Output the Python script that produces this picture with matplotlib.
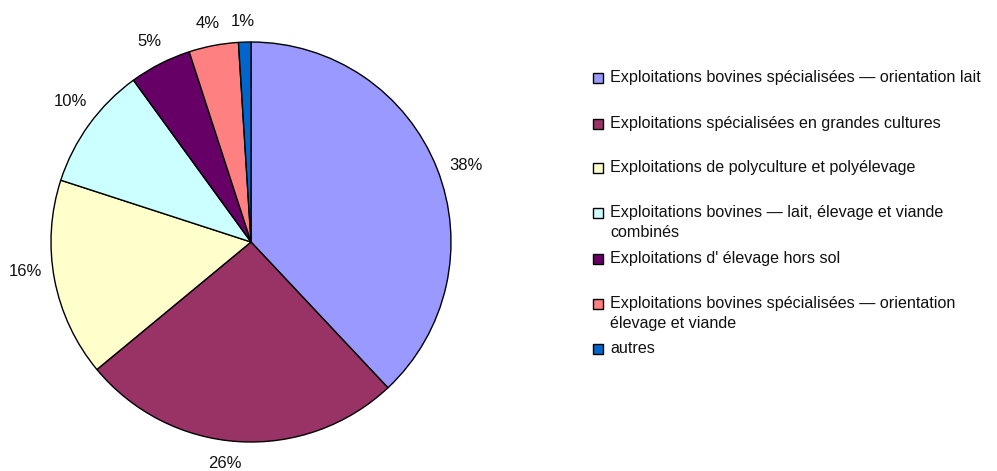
import matplotlib
matplotlib.use("Agg")
import matplotlib.pyplot as plt
from matplotlib.patches import Rectangle

plt.rcParams['font.family'] = ['Liberation Sans', 'DejaVu Sans']

categories = [
    "Exploitations bovines spécialisées — orientation lait",
    "Exploitations spécialisées en grandes cultures",
    "Exploitations de polyculture et polyélevage",
    "Exploitations bovines — lait, élevage et viande\ncombinés",
    "Exploitations d' élevage hors sol",
    "Exploitations bovines spécialisées — orientation\nélevage et viande",
    "autres",
]
values = [38, 26, 16, 10, 5, 4, 1]
colors = ["#9999FF", "#993366", "#FFFFCC", "#CCFFFF", "#660066", "#FF8080", "#0066CC"]

W, H = 997, 471
fig = plt.figure(figsize=(W / 100, H / 100), dpi=100)
fig.patch.set_facecolor("white")

cx, cy, r = 251, 242, 200
ax = fig.add_axes([(cx - r) / W, (H - cy - r) / H, 2 * r / W, 2 * r / H])
res = ax.pie(values, colors=colors, startangle=90, counterclock=False,
             autopct="%1.0f%%", pctdistance=1.13,
             wedgeprops=dict(edgecolor="black", linewidth=1.0),
             textprops=dict(fontsize=12, color="#111111"))
ax.set_xlim(-1, 1)
ax.set_ylim(-1, 1)
ax.set_aspect("equal")

# Excel-style label placement (pixel positions of label centres)
label_px = [(466, 165), (225, 463), (25, 272), (70, 101), (149, 41), (208, 24), (243, 22)]
for t, (px, py) in zip(res[2], label_px):
    t.set_position(((px - cx) / r, (cy - py) / r))
    t.set_ha("center")
    t.set_va("center")

# legend
legend_y = [78, 124, 168, 213, 259, 304, 349]
for lab, col, y in zip(categories, colors, legend_y):
    fig.patches.append(Rectangle(((598 - 5) / W, (H - y - 5) / H), 10 / W, 10 / H,
                                 facecolor=col, edgecolor="black", linewidth=1.0,
                                 transform=fig.transFigure, figure=fig))
    fig.text(610 / W, (H - y + 8) / H, lab, fontsize=11.6, va="top", ha="left",
             linespacing=1.38, color="#111111")

fig.savefig("out.png", dpi=100)
